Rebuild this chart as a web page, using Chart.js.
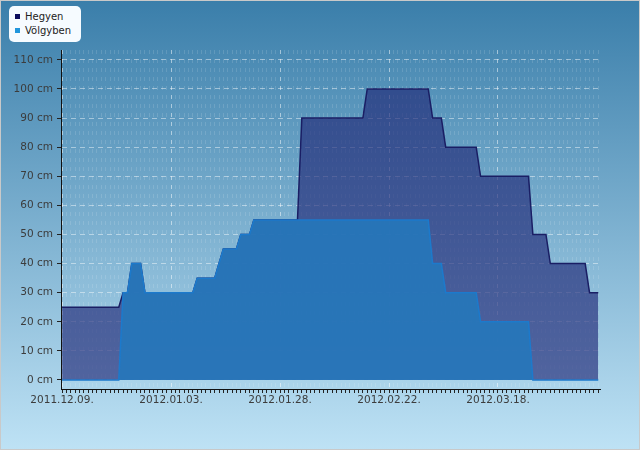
<!DOCTYPE html>
<html>
<head>
<meta charset="utf-8">
<script src="https://cdn.jsdelivr.net/npm/chart.js@4"></script>
<style>
body { margin: 0; }
#wrap { position: relative; width: 640px; height: 450px; background: linear-gradient(#3a7eaa, #bee2f5); box-shadow: inset 0 0 0 1px #c9c9c9; overflow: hidden; }
#myChart { position: absolute; left: 0; top: 0; }
#legend { position: absolute; left: 9px; top: 6px; width: 72px; height: 36px; background: #f6fbff; border-radius: 5px; font: 10px "DejaVu Sans"; color: #222; }
.item { position: absolute; left: 6px; height: 12px; line-height: 12px; white-space: nowrap; }
.sq { display: inline-block; width: 5px; height: 5px; margin-right: 5px; vertical-align: 1px; }
</style>
</head>
<body>
<div id="wrap">
  <canvas id="myChart" width="640" height="450"></canvas>
  <div id="legend">
    <div class="item" style="top:5px"><span class="sq" style="background:#0c0c5c"></span>Hegyen</div>
    <div class="item" style="top:19px"><span class="sq" style="background:#2196dc"></span>Völgyben</div>
  </div>
</div>
<script>
// days counted from 2011.12.09.
const hegyenDays = [0, 13, 14, 15, 16, 18, 19, 30, 31, 35, 36, 37, 40, 41, 43, 44, 54, 55, 69, 70, 84, 85, 87, 88, 95, 96, 107, 108, 111, 112, 120, 121, 123];
const hegyenCm   = [25, 25, 30, 30, 40, 40, 30, 30, 35, 35, 40, 45, 45, 50, 50, 55, 55, 90, 90, 100, 100, 90, 90, 80, 80, 70, 70, 50, 50, 40, 40, 30, 30];
const volgyDays  = [0, 13, 14, 15, 16, 18, 19, 30, 31, 35, 36, 37, 40, 41, 43, 44, 84, 85, 87, 88, 95, 96, 107, 108, 123];
const volgyCm    = [0, 0, 30, 30, 40, 40, 30, 30, 35, 35, 40, 45, 45, 50, 50, 55, 55, 40, 40, 30, 30, 20, 20, 0, 0];
const xTickDays  = [0, 25, 50, 75, 100];
const yTicks     = [0, 10, 20, 30, 40, 50, 60, 70, 80, 90, 100, 110];

function toPoints(days, vals) {
    return days.map((d, i) => ({ x: d, y: vals[i] }));
}

function dayLabel(d) {
    const dt = new Date(2011, 11, 9 + d);
    const mm = String(dt.getMonth() + 1).padStart(2, '0');
    const dd = String(dt.getDate()).padStart(2, '0');
    return `${dt.getFullYear()}.${mm}.${dd}.`;
}

const tickFont = { family: 'DejaVu Sans', size: 10.5 };
const ctx = document.getElementById('myChart').getContext('2d');

new Chart(ctx, {
    type: 'line',
    data: {
        datasets: [
            {
                label: 'Hegyen',
                data: toPoints(hegyenDays, hegyenCm),
                borderColor: 'rgb(26,30,100)',
                backgroundColor: 'rgba(32,40,118,0.65)',
                borderWidth: 1.5,
                fill: 'origin',
                pointRadius: 0,
                tension: 0,
                order: 2
            },
            {
                label: 'Völgyben',
                data: toPoints(volgyDays, volgyCm),
                borderColor: 'rgb(28,122,204)',
                backgroundColor: 'rgba(38,118,186,0.92)',
                borderWidth: 1.5,
                fill: 'origin',
                pointRadius: 0,
                tension: 0,
                order: 1
            }
        ]
    },
    options: {
        responsive: false,
        animation: false,
        plugins: { legend: { display: false }, tooltip: { enabled: false } },
        layout: { padding: { top: 50, right: 40, left: 0, bottom: 0 } },
        scales: {
            x: {
                type: 'linear',
                min: -0.25,
                max: 123.4,
                afterBuildTicks: s => {
                    s.ticks = [];
                    for (let d = 0; d <= 123; d++) s.ticks.push({ value: d });
                },
                afterFit: s => { s.height = 61; },
                ticks: {
                    autoSkip: false,
                    maxRotation: 0,
                    padding: 1,
                    color: '#3c3c3c',
                    font: tickFont,
                    callback: v => xTickDays.includes(v) ? dayLabel(v) : ''
                },
                grid: {
                    color: c => (c.tick && xTickDays.includes(c.tick.value)) ? 'rgba(255,255,255,0.5)' : 'rgba(255,255,255,0.13)',
                    tickLength: 4,
                    tickColor: '#222'
                },
                border: { color: '#111', width: 1, dash: [4, 5] }
            },
            y: {
                min: -3.1,
                max: 113.4,
                afterBuildTicks: s => { s.ticks = yTicks.map(v => ({ value: v })); },
                afterFit: s => { s.width = 61; },
                ticks: {
                    padding: 4,
                    color: '#3c3c3c',
                    font: tickFont,
                    callback: v => v + ' cm'
                },
                grid: {
                    color: 'rgba(255,255,255,0.45)',
                    tickLength: 4,
                    tickColor: '#222'
                },
                border: { color: '#111', width: 1, dash: [5, 4] }
            }
        }
    }
});
</script>
</body>
</html>
